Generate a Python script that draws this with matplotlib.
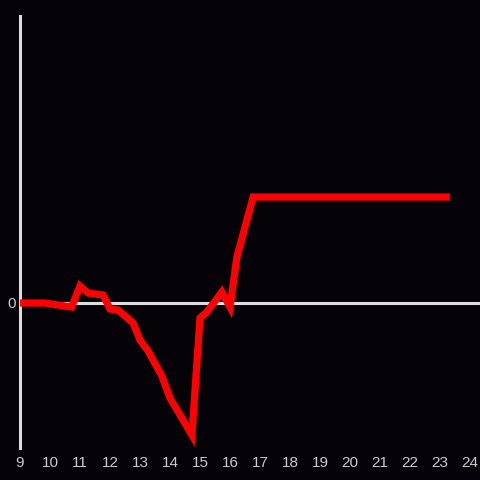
import numpy as np
import matplotlib
matplotlib.use("Agg")
import matplotlib.pyplot as plt

# data (hour of day vs value)
hours = [9.0, 9.83, 10.72, 11.0, 11.27, 11.77, 12.0, 12.27, 12.77, 13.0, 13.27,
         13.73, 14.0, 14.73, 15.0, 15.23, 15.73, 16.0, 16.23, 16.77, 23.33]
values = [0, 0, -4, 17, 10, 8, -6, -7, -20, -37, -48,
          -73, -95, -132, -15, -9, 11, -4, 46, 106, 106]
xticks = list(range(9, 25))

plt.rcParams['font.family'] = ['Liberation Sans', 'DejaVu Sans']

bg = "#050307"
fig = plt.figure(figsize=(4.8, 4.8), dpi=100, facecolor=bg)
ax = fig.add_axes([20/480, 32/480, 460/480, 432/480], facecolor=bg)

ax.axhline(0, color="#dddddd", lw=2.2, zorder=1)
ax.plot(hours, values, color="#ff0000", lw=5.2, solid_joinstyle="miter",
        solid_capstyle="butt", zorder=3)

ax.set_xlim(9, 9 + 460/30)
ax.set_ylim(-145, 287)
for s in ["top", "right", "bottom"]:
    ax.spines[s].set_visible(False)
ax.spines["left"].set_color("#dddddd")
ax.spines["left"].set_linewidth(2.2)

ax.set_xticks(xticks)
ax.set_xticklabels([str(t) for t in xticks])
ax.set_yticks([0])
ax.set_yticklabels(["0"])
ax.tick_params(length=0, colors="#cccccc", labelsize=11)
ax.tick_params(axis="x", pad=6)
ax.tick_params(axis="y", pad=3)

fig.savefig("out.png", facecolor=bg)
